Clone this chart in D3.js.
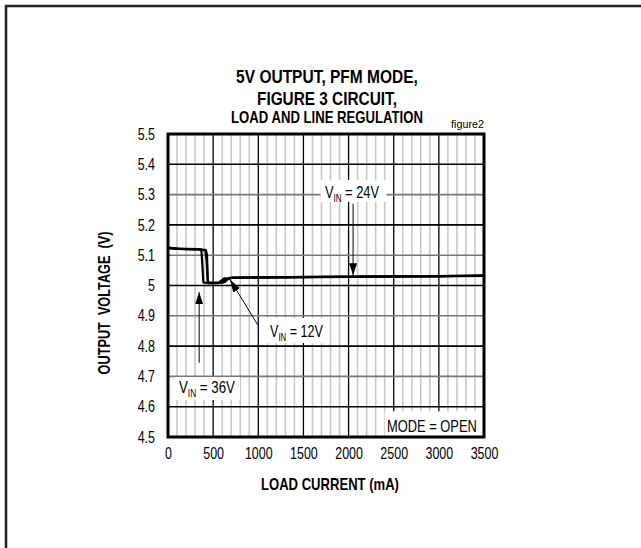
<!DOCTYPE html>
<html>
<head>
<meta charset="utf-8">
<script src="https://cdn.jsdelivr.net/npm/d3@7"></script>
<style>
  html, body { margin: 0; padding: 0; background: #fff; }
  svg { display: block; }
  text { font-family: "Liberation Sans Narrow", "Arial Narrow", "Liberation Sans", Arial, sans-serif; fill: #000; }
</style>
</head>
<body>
<div id="chart"></div>
<script>
"use strict";

//-----------------------------DATA-----------------------------//
const xTicks = [0, 500, 1000, 1500, 2000, 2500, 3000, 3500];
const yTicks = [4.5, 4.6, 4.7, 4.8, 4.9, 5, 5.1, 5.2, 5.3, 5.4, 5.5];

// load current (mA) and output voltage (V) for each input voltage
const current36 = [0, 100, 200, 340, 370, 382, 392, 450, 560, 600, 640, 700, 1000, 2000, 3000, 3500];
const vout36    = [5.125, 5.122, 5.121, 5.12, 5.117, 5.06, 5.01, 5.008, 5.008, 5.012, 5.022, 5.026, 5.027, 5.029, 5.031, 5.033];
const current24 = [0, 100, 200, 350, 420, 432, 442, 470, 600, 630, 660, 700, 1000, 2000, 3000, 3500];
const vout24    = [5.123, 5.121, 5.12, 5.119, 5.117, 5.1, 5.012, 5.009, 5.009, 5.012, 5.021, 5.025, 5.026, 5.028, 5.03, 5.032];
const current12 = [0, 100, 200, 350, 415, 428, 440, 470, 560, 590, 625, 665, 700, 1000, 2000, 3000, 3500];
const vout12    = [5.124, 5.122, 5.12, 5.119, 5.116, 5.08, 5.011, 5.009, 5.009, 5.016, 5.024, 5.021, 5.025, 5.027, 5.029, 5.031, 5.033];

const titleLines = ["5V OUTPUT, PFM MODE,", "FIGURE 3 CIRCUIT,"];
const subTitle = "LOAD AND LINE REGULATION";
const vinLabels = ["24V", "12V", "36V"];

//-----------------------------SVG------------------------------//
const width = 641;
const height = 548;
const plot = { left: 168, right: 484, top: 134, bottom: 437 };

const svg = d3.select("#chart").append("svg")
    .attr("width", width)
    .attr("height", height);

// squeeze text horizontally to mimic a narrow face (none installed)
const squeezeBy = (sel, f) => sel.each(function () {
    const s = d3.select(this);
    const x0 = +s.attr("x") || 0;
    const tr = s.attr("transform") || "";
    s.attr("x", x0 / f).attr("transform", tr + " scale(" + f + ",1)");
});
const squeezeTo = (sel, w) => sel.each(function () {
    squeezeBy(d3.select(this), w / this.getComputedTextLength());
});

// page frame (only left and top edges show)
svg.append("path")
    .attr("d", "M6," + height + "V6H" + width)
    .attr("fill", "none")
    .attr("stroke", "#222")
    .attr("stroke-width", 2.5);

//----------------------------SCALES----------------------------//
const x = d3.scaleLinear().domain([0, 3500]).range([plot.left, plot.right]);
const y = d3.scaleLinear().domain([4.5, 5.5]).range([plot.bottom, plot.top]);

//-----------------------------GRID-----------------------------//
const grid = svg.append("g");
const minorX = d3.range(100, 3500, 100).filter(d => d % 500 !== 0);
grid.selectAll(".minor-x").data(minorX).join("line")
    .attr("x1", d => x(d)).attr("x2", d => x(d))
    .attr("y1", plot.top).attr("y2", plot.bottom)
    .attr("stroke", "#c8c8c8").attr("stroke-width", 1.6);

grid.selectAll(".major-x").data(xTicks.slice(1, -1)).join("line")
    .attr("x1", d => x(d)).attr("x2", d => x(d))
    .attr("y1", plot.top).attr("y2", plot.bottom)
    .attr("stroke", "#000").attr("stroke-width", 1.3);

grid.selectAll(".major-y").data(yTicks.slice(1, -1)).join("line")
    .attr("x1", plot.left).attr("x2", plot.right)
    .attr("y1", d => y(d)).attr("y2", d => y(d))
    .attr("stroke", (d, i) => i % 2 === 0 ? "#000" : "#777")
    .attr("stroke-width", 1.6);

//-----------------------------AXES-----------------------------//
const xAxis = d3.axisBottom(x).tickValues(xTicks).tickSize(0).tickPadding(11)
    .tickFormat(d3.format("d"));
const yAxis = d3.axisLeft(y).tickValues(yTicks).tickSize(0).tickPadding(13)
    .tickFormat(d => d === 5 ? "5" : d3.format(".1f")(d));

svg.append("g")
    .attr("transform", "translate(0," + plot.bottom + ")")
    .call(xAxis)
    .call(g => g.select(".domain").remove())
    .selectAll("text")
    .attr("font-size", 16)
    .call(squeezeBy, 0.78);

svg.append("g")
    .attr("transform", "translate(" + plot.left + ",0)")
    .call(yAxis)
    .call(g => g.select(".domain").remove())
    .selectAll("text")
    .attr("font-size", 16)
    .call(squeezeBy, 0.78);

//----------------------------LINES-----------------------------//
const line = d3.line()
    .x(d => x(d[0]))
    .y(d => y(d[1]));

const series = [
    d3.zip(current36, vout36),
    d3.zip(current24, vout24),
    d3.zip(current12, vout12)
];

svg.append("g").selectAll("path").data(series).join("path")
    .attr("d", line)
    .attr("fill", "none")
    .attr("stroke", "#000")
    .attr("stroke-width", 2.2)
    .attr("stroke-linejoin", "round");

//---------------------------ARROWS-----------------------------//
svg.append("defs").append("marker")
    .attr("id", "head")
    .attr("viewBox", "0 0 12 8")
    .attr("refX", 12).attr("refY", 4)
    .attr("markerWidth", 12).attr("markerHeight", 8)
    .attr("markerUnits", "userSpaceOnUse")
    .attr("orient", "auto")
    .append("path").attr("d", "M0,0L12,4L0,8Z").attr("fill", "#000");

const arrows = [
    { from: [2050, 5.27], to: [2050, 5.034] },
    { from: [994, 4.87], to: [690, 5.018] },
    { from: [345, 4.745], to: [345, 4.978] }
];
svg.append("g").selectAll("line").data(arrows).join("line")
    .attr("x1", d => x(d.from[0])).attr("y1", d => y(d.from[1]))
    .attr("x2", d => x(d.to[0])).attr("y2", d => y(d.to[1]))
    .attr("stroke", "#000").attr("stroke-width", 1)
    .attr("marker-end", "url(#head)");

//---------------------------LABELS-----------------------------//
// white patches in data units (current, voltage)
const labelBoxes = [
    [1690, 2420, 5.348, 5.276],
    [1074, 1761, 4.893, 4.81],
    [78, 797, 4.698, 4.622]
];
// text baselines and widths
const labelPos = [[325, 198, 54], [270, 337, 53], [179, 393, 56]];

const lab = svg.append("g");
labelBoxes.forEach(b => {
    lab.append("rect")
        .attr("x", x(b[0])).attr("y", y(b[2]))
        .attr("width", x(b[1]) - x(b[0]))
        .attr("height", y(b[3]) - y(b[2]))
        .attr("fill", "#fff");
});
vinLabels.forEach((v, i) => {
    const t = lab.append("text")
        .attr("x", labelPos[i][0]).attr("y", labelPos[i][1])
        .attr("font-size", 16);
    t.append("tspan").text("V");
    t.append("tspan").attr("font-size", 10).attr("dy", 4).text("IN");
    t.append("tspan").attr("dy", -4).text(" = " + v);
    squeezeTo(t, labelPos[i][2]);
});

// mode box in the lower right corner
lab.append("rect")
    .attr("x", x(2400)).attr("y", y(4.585))
    .attr("width", x(3500) - x(2400))
    .attr("height", y(4.5) - y(4.585))
    .attr("fill", "#fff");
lab.append("text")
    .attr("x", 387).attr("y", 432)
    .attr("font-size", 16)
    .text("MODE = OPEN")
    .call(squeezeTo, 90);

// plot frame
svg.append("rect")
    .attr("x", plot.left).attr("y", plot.top)
    .attr("width", plot.right - plot.left)
    .attr("height", plot.bottom - plot.top)
    .attr("fill", "none")
    .attr("stroke", "#000")
    .attr("stroke-width", 3);

//---------------------------TITLES-----------------------------//
const cx = 327;
const titleW = [182, 140];
svg.append("g").selectAll("text").data(titleLines).join("text")
    .attr("x", cx).attr("y", (d, i) => 83.5 + i * 22)
    .attr("text-anchor", "middle")
    .attr("font-size", 19).attr("font-weight", "bold")
    .text(d => d)
    .each(function (d, i) { squeezeTo(d3.select(this), titleW[i]); });

svg.append("text")
    .attr("x", cx).attr("y", 123.5)
    .attr("text-anchor", "middle")
    .attr("font-size", 16.5).attr("font-weight", "bold")
    .text(subTitle)
    .call(squeezeTo, 192);

svg.append("text")
    .attr("x", plot.right).attr("y", 128)
    .attr("text-anchor", "end")
    .attr("font-size", 11)
    .text("figure2")
    .call(squeezeTo, 33);

svg.append("text")
    .attr("x", 330).attr("y", 490)
    .attr("text-anchor", "middle")
    .attr("font-size", 16.5).attr("font-weight", "bold")
    .text("LOAD CURRENT (mA)")
    .call(squeezeTo, 138);

svg.append("text")
    .attr("transform", "translate(110,303) rotate(-90)")
    .attr("text-anchor", "middle")
    .attr("font-size", 16.5).attr("font-weight", "bold")
    .style("white-space", "pre")
    .text("OUTPUT  VOLTAGE  (V)")
    .call(squeezeTo, 143);
</script>
</body>
</html>
